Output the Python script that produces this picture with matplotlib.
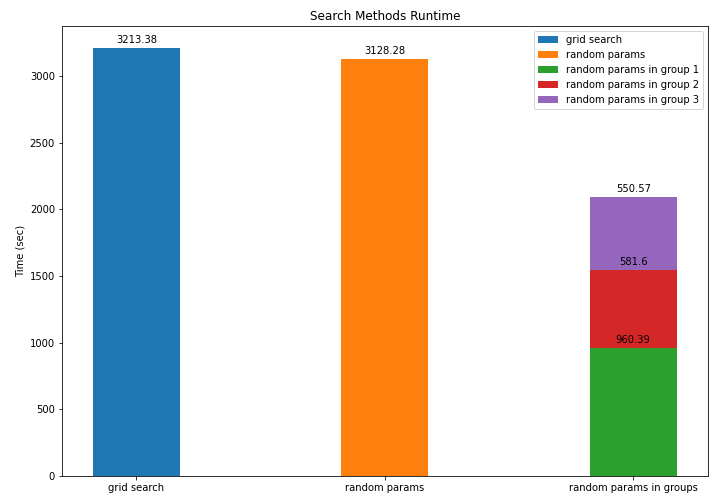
import matplotlib
matplotlib.use("Agg")
import matplotlib.pyplot as plt
import numpy as np

methods = ["grid search", "random params", "random params in groups"]
grid_time = 3213.38
random_time = 3128.28
group_times = [960.39, 581.6, 550.57]
group_labels = ["random params in group 1", "random params in group 2", "random params in group 3"]

fig, ax = plt.subplots(figsize=(10, 7), dpi=72)
fig.subplots_adjust(left=0.086, right=0.983, top=0.948, bottom=0.056)

x = np.arange(len(methods))
width = 0.35

def label(rects):
    for r in rects:
        h = r.get_y() + r.get_height()
        ax.annotate(f"{r.get_height():g}", xy=(r.get_x() + r.get_width() / 2, h),
                    xytext=(0, 3), textcoords="offset points", ha="center", va="bottom")

label(ax.bar(x[0], grid_time, width, color="C0", label="grid search"))
label(ax.bar(x[1], random_time, width, color="C1", label="random params"))
bottom = 0
for i, (t, lab) in enumerate(zip(group_times, group_labels)):
    label(ax.bar(x[2], t, width, bottom=bottom, color=f"C{i + 2}", label=lab))
    bottom += t

ax.set_xticks(x)
ax.set_xticklabels(methods)
ax.set_ylabel("Time (sec)")
ax.set_title("Search Methods Runtime")
ax.set_xlim(-0.3, 2.3)
ax.set_ylim(0, 3374)
ax.legend(loc="upper right")

fig.savefig("out.png")
